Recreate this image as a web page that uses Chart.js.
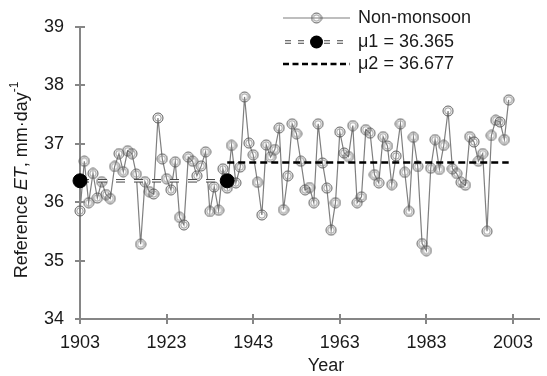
<!DOCTYPE html>
<html>
<head>
<meta charset="utf-8">
<script src="https://cdn.jsdelivr.net/npm/chart.js@4.4.1/dist/chart.umd.min.js"></script>
<style>
  html, body { margin: 0; padding: 0; background: #fff; }
  #wrap { width: 547px; height: 376px; }
</style>
</head>
<body>
<div id="wrap"><canvas id="etChart"></canvas></div>
<script>
// Non-monsoon reference ET, 1903-2002
const years = [
  1903, 1904, 1905, 1906, 1907, 1908, 1909, 1910, 1911, 1912,
  1913, 1914, 1915, 1916, 1917, 1918, 1919, 1920, 1921, 1922,
  1923, 1924, 1925, 1926, 1927, 1928, 1929, 1930, 1931, 1932,
  1933, 1934, 1935, 1936, 1937, 1938, 1939, 1940, 1941, 1942,
  1943, 1944, 1945, 1946, 1947, 1948, 1949, 1950, 1951, 1952,
  1953, 1954, 1955, 1956, 1957, 1958, 1959, 1960, 1961, 1962,
  1963, 1964, 1965, 1966, 1967, 1968, 1969, 1970, 1971, 1972,
  1973, 1974, 1975, 1976, 1977, 1978, 1979, 1980, 1981, 1982,
  1983, 1984, 1985, 1986, 1987, 1988, 1989, 1990, 1991, 1992,
  1993, 1994, 1995, 1996, 1997, 1998, 1999, 2000, 2001, 2002
];
const nonMonsoonET = [
  35.85, 36.70, 35.99, 36.49, 36.07, 36.35, 36.13, 36.06, 36.61, 36.83,
  36.52, 36.88, 36.83, 36.48, 35.28, 36.35, 36.18, 36.14, 37.44, 36.74,
  36.40, 36.21, 36.69, 35.74, 35.61, 36.77, 36.70, 36.45, 36.62, 36.86,
  35.84, 36.26, 35.86, 36.57, 36.24, 36.97, 36.33, 36.60, 37.80, 37.01,
  36.81, 36.34, 35.78, 36.98, 36.77, 36.90, 37.27, 35.87, 36.45, 37.34,
  37.17, 36.70, 36.21, 36.25, 35.99, 37.34, 36.67, 36.24, 35.52, 35.99,
  37.20, 36.84, 36.78, 37.31, 35.99, 36.09, 37.24, 37.18, 36.47, 36.33,
  37.12, 36.96, 36.30, 36.79, 37.34, 36.51, 35.84, 37.11, 36.61, 35.29,
  35.17, 36.58, 37.07, 36.56, 36.97, 37.56, 36.57, 36.49, 36.34, 36.29,
  37.12, 37.03, 36.70, 36.83, 35.50, 37.14, 37.40, 37.37, 37.07, 37.75
];
const mu1Years = [1903, 1937];
const mu1Value = 36.365;
const mu2Years = [1937, 2002];
const mu2Value = 36.677;
const xTicks = [1903, 1923, 1943, 1963, 1983, 2003];
const yTicks = [34, 35, 36, 37, 38, 39];

const FONT = '"Liberation Sans", Arial, sans-serif';
const TEXT = '#1a1a1a';
const AXIS = '#868686';

// double-ring open circle marker
function ringMarker() {
    const c = document.createElement('canvas');
    c.width = 12; c.height = 12;
    const g = c.getContext('2d');
    g.strokeStyle = '#5a5a5a';
    g.lineWidth = 1;
    g.beginPath(); g.arc(6, 6, 5, 0, Math.PI * 2); g.stroke();
    g.strokeStyle = '#8c8c8c';
    g.lineWidth = 0.9;
    g.beginPath(); g.arc(6, 6, 3.2, 0, Math.PI * 2); g.stroke();
    return c;
}
const marker = ringMarker();

const seriesPts = years.map((y, i) => ({ x: y, y: nonMonsoonET[i] }));
const mu1Pts = mu1Years.map(y => ({ x: y, y: mu1Value }));
const mu2Pts = mu2Years.map(y => ({ x: y, y: mu2Value }));

// ticks crossing the axis lines, axis titles and legend
const decorations = {
    id: 'decorations',
    afterDraw(chart) {
        const { ctx, chartArea: a, scales: { x, y } } = chart;
        ctx.save();
        ctx.strokeStyle = AXIS;
        ctx.lineWidth = 2;
        ctx.beginPath();
        xTicks.forEach(v => {
            const px = Math.round(x.getPixelForValue(v));
            ctx.moveTo(px, a.bottom - 5); ctx.lineTo(px, a.bottom + 5);
        });
        yTicks.forEach(v => {
            const py = Math.round(y.getPixelForValue(v));
            ctx.moveTo(a.left - 5, py); ctx.lineTo(a.left + 5, py);
        });
        ctx.stroke();

        // x title
        ctx.fillStyle = TEXT;
        ctx.font = '18px ' + FONT;
        ctx.textAlign = 'center';
        ctx.textBaseline = 'middle';
        ctx.fillText('Year', 326, 366);

        // y title with italic ET and superscript
        const parts = [
            { t: 'Reference ', f: '18px ' + FONT, dy: 0 },
            { t: 'ET', f: 'italic 18px ' + FONT, dy: 0 },
            { t: ', mm\u00B7day', f: '18px ' + FONT, dy: 0 },
            { t: '-1', f: '12px ' + FONT, dy: -7 }
        ];
        let total = 0;
        parts.forEach(p => { ctx.font = p.f; p.w = ctx.measureText(p.t).width; total += p.w; });
        ctx.translate(22, 180);
        ctx.rotate(-Math.PI / 2);
        ctx.textAlign = 'left';
        let cx = -total / 2;
        parts.forEach(p => {
            ctx.font = p.f;
            ctx.fillText(p.t, cx, p.dy);
            cx += p.w;
        });
        ctx.setTransform(1, 0, 0, 1, 0, 0);

        // legend
        const lx0 = 283, lx1 = 350, lmid = 316.5, tx = 358;
        ctx.textAlign = 'left';
        ctx.textBaseline = 'middle';
        ctx.font = '18px ' + FONT;

        // row 1
        ctx.strokeStyle = '#7f7f7f';
        ctx.lineWidth = 1.2;
        ctx.beginPath(); ctx.moveTo(lx0, 18); ctx.lineTo(lx1, 18); ctx.stroke();
        ctx.drawImage(marker, lmid - 6, 12);
        ctx.fillText('Non-monsoon', tx, 18);

        // row 2
        ctx.setLineDash([6, 7]);
        ctx.lineDashOffset = -1;
        ctx.strokeStyle = '#444';
        ctx.lineWidth = 3.5;
        ctx.beginPath(); ctx.moveTo(lx0 + 1, 42); ctx.lineTo(lx1, 42); ctx.stroke();
        ctx.strokeStyle = '#fff';
        ctx.lineWidth = 1.5;
        ctx.beginPath(); ctx.moveTo(lx0 + 1, 42); ctx.lineTo(lx1, 42); ctx.stroke();
        ctx.setLineDash([]);
        ctx.fillStyle = '#000';
        ctx.beginPath(); ctx.arc(lmid, 42, 6.5, 0, Math.PI * 2); ctx.fill();
        ctx.fillStyle = TEXT;
        ctx.fillText('\u03BC1 = ' + mu1Value.toFixed(3), tx, 42);

        // row 3
        ctx.setLineDash([6, 3.5]);
        ctx.lineDashOffset = 0;
        ctx.strokeStyle = '#000';
        ctx.lineWidth = 2.5;
        ctx.beginPath(); ctx.moveTo(lx0, 64); ctx.lineTo(lx1, 64); ctx.stroke();
        ctx.setLineDash([]);
        ctx.fillText('\u03BC2 = ' + mu2Value.toFixed(3), tx, 64);
        ctx.restore();
    }
};

new Chart(document.getElementById('etChart'), {
    type: 'line',
    data: {
        datasets: [
            {
                label: 'mu1 dots',
                data: mu1Pts,
                showLine: false,
                pointRadius: 7,
                pointBackgroundColor: '#000',
                pointBorderColor: '#000',
                clip: false,
                order: 0
            },
            {
                label: 'mu1 inner',
                data: mu1Pts,
                borderColor: '#fff',
                borderWidth: 1.5,
                borderDash: [9, 9],
                pointRadius: 0,
                order: 1
            },
            {
                label: 'mu1 = ' + mu1Value,
                data: mu1Pts,
                borderColor: '#444',
                borderWidth: 3.5,
                borderDash: [9, 9],
                pointRadius: 0,
                order: 2
            },
            {
                label: 'mu2 = ' + mu2Value,
                data: mu2Pts,
                borderColor: '#000',
                borderWidth: 2.5,
                borderDash: [7, 4],
                pointRadius: 0,
                order: 3
            },
            {
                label: 'Non-monsoon',
                data: seriesPts,
                borderColor: '#7f7f7f',
                borderWidth: 1.2,
                pointStyle: marker,
                pointRadius: 5,
                tension: 0,
                clip: false,
                order: 4
            }
        ]
    },
    options: {
        responsive: true,
        maintainAspectRatio: false,
        animation: false,
        layout: { padding: { top: 24, right: 5, left: 0, bottom: 0 } },
        plugins: { legend: { display: false }, tooltip: { enabled: false } },
        scales: {
            x: {
                type: 'linear',
                min: 1903,
                max: 2009,
                afterBuildTicks: s => { s.ticks = xTicks.map(v => ({ value: v })); },
                afterFit: s => { s.height = 57; },
                grid: { display: false, drawTicks: false },
                border: { display: true, color: AXIS, width: 2 },
                ticks: {
                    color: TEXT,
                    font: { family: FONT, size: 18 },
                    padding: 13,
                    maxRotation: 0,
                    callback: v => String(v)
                }
            },
            y: {
                min: 34,
                max: 39,
                afterBuildTicks: s => { s.ticks = yTicks.map(v => ({ value: v })); },
                afterFit: s => { s.width = 80; },
                grid: { display: false, drawTicks: false },
                border: { display: true, color: AXIS, width: 2 },
                ticks: {
                    color: TEXT,
                    font: { family: FONT, size: 18 },
                    padding: 16
                }
            }
        }
    },
    plugins: [decorations]
});
</script>
</body>
</html>
